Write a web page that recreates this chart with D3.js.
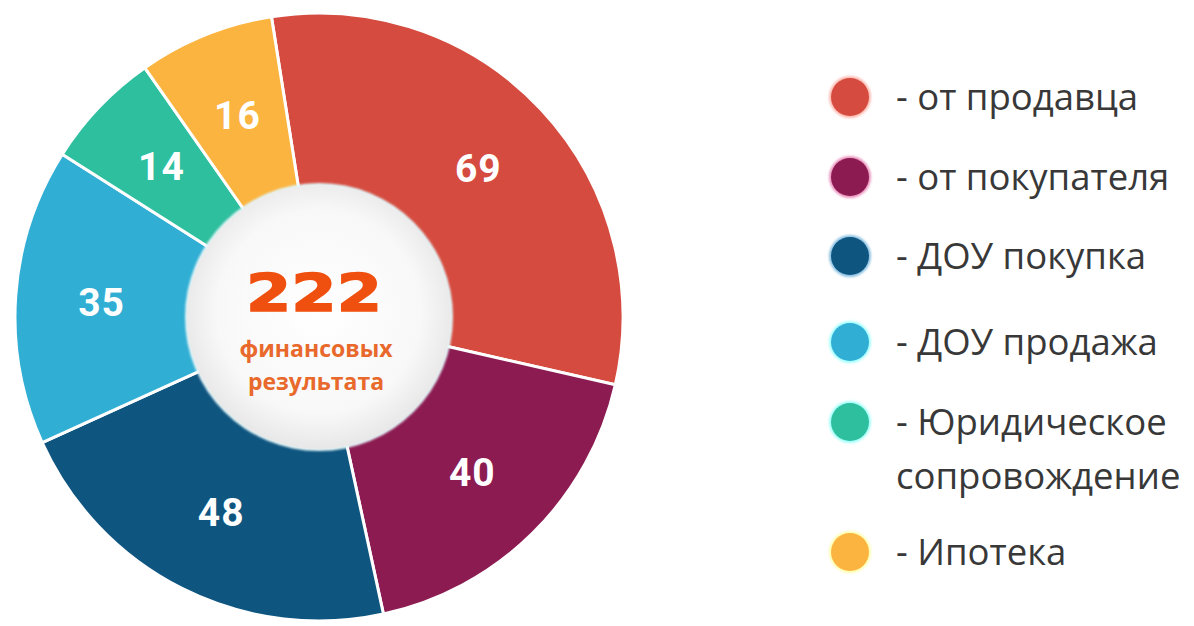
<!DOCTYPE html>
<html><head><meta charset="utf-8">
<script src="https://cdn.jsdelivr.net/npm/d3@7"></script>
<style>html,body{margin:0;padding:0;background:#fff;}svg{display:block;}</style>
</head><body>
<svg id="chart" width="1194" height="626"></svg>
<script>
const categories = ["- от продавца", "- от покупателя", "- ДОУ покупка", "- ДОУ продажа", "- Юридическое сопровождение", "- Ипотека"];
const legendLines = [["- от продавца"], ["- от покупателя"], ["- ДОУ покупка"], ["- ДОУ продажа"], ["- Юридическое", "сопровождение"], ["- Ипотека"]];
const values = [69, 40, 48, 35, 14, 16];
const colors = ["#D54B3F", "#8C1B52", "#0E5580", "#30AED4", "#2EBF9F", "#FBB43F"];
const totalValue = 222;
const centerLines = ["финансовых", "результата"];

const svg = d3.select("#chart");
const defs = svg.append("defs");
const grad = defs.append("radialGradient").attr("id", "innerGrad").attr("cx", "50%").attr("cy", "48%").attr("r", "55%");
grad.append("stop").attr("offset", "0%").attr("stop-color", "#ffffff");
grad.append("stop").attr("offset", "70%").attr("stop-color", "#f8f8f8");
grad.append("stop").attr("offset", "100%").attr("stop-color", "#e4e4e4");
const f = defs.append("filter").attr("id", "glow").attr("x", "-30%").attr("y", "-30%").attr("width", "160%").attr("height", "160%");
f.append("feGaussianBlur").attr("stdDeviation", 1.2);

const cx = 319, cy = 317, rOuter = 304, rInner = 132;
const g = svg.append("g").attr("transform", `translate(${cx},${cy})`);

const pie = d3.pie().sort(null).value(d => d).startAngle(-9 * Math.PI / 180).endAngle(351 * Math.PI / 180);
const arcs = pie(values);
const arc = d3.arc().innerRadius(rInner - 10).outerRadius(rOuter);
const labelArc = d3.arc().innerRadius(rInner).outerRadius(rOuter);
const color = d3.scaleOrdinal().domain(d3.range(values.length)).range(colors);

g.selectAll("path.slice").data(arcs).join("path")
  .attr("class", "slice")
  .attr("d", arc)
  .attr("fill", (d, i) => color(i))
  .attr("stroke", "#ffffff")
  .attr("stroke-width", 3)
  .attr("stroke-linejoin", "round");

g.selectAll("text.val").data(arcs).join("text")
  .attr("class", "val")
  .attr("transform", d => { const c = labelArc.centroid(d); return `translate(${c[0]},${c[1]})`; })
  .attr("text-anchor", "middle")
  .attr("dy", "0.36em")
  .attr("fill", "#ffffff")
  .style("font-family", "Roboto, 'Open Sans', sans-serif")
  .style("font-weight", "700")
  .style("font-size", "39px")
  .style("letter-spacing", "1px")
  .text(d => d.data);

// inner circle
g.append("circle").attr("r", rInner + 2).attr("fill", "#e3f4f6").attr("filter", "url(#glow)");
g.append("circle").attr("r", rInner).attr("fill", "url(#innerGrad)");

g.append("text")
  .attr("x", -5).attr("y", -6)
  .attr("text-anchor", "middle")
  .attr("fill", "#F0500F")
  .attr("stroke", "#F0500F")
  .attr("stroke-width", 1.5)
  .attr("textLength", 136)
  .attr("lengthAdjust", "spacingAndGlyphs")
  .style("font-family", "'DejaVu Sans', sans-serif")
  .style("font-weight", "700")
  .style("font-size", "52px")
  .text(totalValue);

g.selectAll("text.sub").data(centerLines).join("text")
  .attr("class", "sub")
  .attr("x", -3)
  .attr("y", (d, i) => 40 + i * 33)
  .attr("text-anchor", "middle")
  .attr("fill", "#E8692B")
  .style("font-family", "'Open Sans', sans-serif")
  .style("font-weight", "700")
  .style("font-size", "23px")
  .text(d => d);

// legend
const legendY = [97, 177, 256, 342, 422, 552];
const lg = svg.append("g");
const items = lg.selectAll("g.item").data(categories).join("g")
  .attr("class", "item")
  .attr("transform", (d, i) => `translate(850,${legendY[i]})`);
items.append("circle").attr("r", 21).attr("fill", (d, i) => d3.color(color(i)).brighter(1.2)).attr("opacity", 0.5).attr("filter", "url(#glow)");
items.append("circle").attr("r", 19).attr("fill", (d, i) => color(i));
items.each(function (d, i) {
  const t = d3.select(this).append("text")
    .attr("fill", "#383838")
    .style("font-family", "'Open Sans', sans-serif")
    .style("font-size", "36.5px");
  legendLines[i].forEach((line, j) => {
    t.append("tspan").attr("x", 46).attr("y", j * 54).attr("dy", "0.35em").text(line);
  });
});
</script>
</body></html>
